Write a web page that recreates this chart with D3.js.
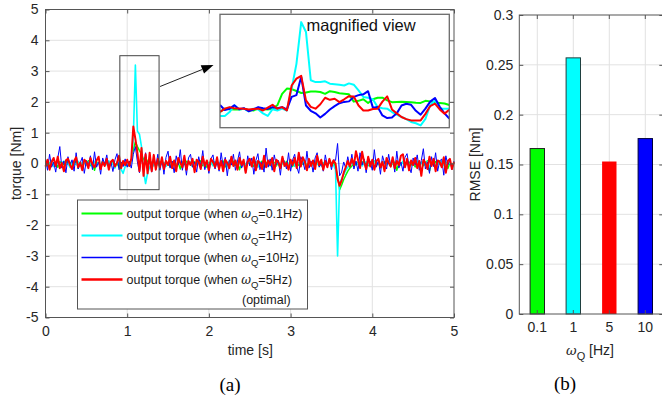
<!DOCTYPE html>
<html><head><meta charset="utf-8">
<script src="https://cdn.jsdelivr.net/npm/d3@7"></script>
<style>
html,body{margin:0;padding:0;background:#fff;}
svg{display:block;font-family:"Liberation Sans",Arial,Helvetica,sans-serif;}
</style></head><body>
<svg id="fig" width="662" height="401"></svg>
<script>
// ---- measured torque, sampled every dt seconds from t = 0 to 5 s
const dt = 0.025;
const torqueW01 = [
0.05,-0.08,0.02,0.10,-0.05,0.03,-0.12,0.06,0.00,-0.04,0.08,-0.02,0.04,-0.09,0.01,0.07,-0.15,0.03,-0.05,0.06,
-0.03,0.09,-0.07,0.02,-0.22,0.04,0.01,-0.06,0.08,-0.03,0.05,-0.10,0.02,0.06,-0.04,0.00,-0.12,0.03,-0.05,0.02,
-0.06,0.04,0.08,0.45,0.70,0.55,0.42,0.30,0.12,0.20,0.05,0.12,-0.05,0.08,-0.02,0.06,-0.04,0.03,-0.08,0.05,
0.00,-0.10,0.04,0.08,-0.06,0.02,-0.18,0.05,-0.03,0.07,-0.01,0.03,-0.09,0.06,-0.04,0.02,0.09,-0.07,0.01,-0.12,
0.04,-0.02,0.06,-0.08,0.03,0.00,-0.05,0.08,-0.11,0.02,0.05,-0.03,0.07,-0.06,0.01,-0.20,0.04,0.02,-0.07,0.06,
-0.02,0.03,-0.09,0.05,0.00,-0.04,0.08,-0.13,0.02,0.06,-0.05,0.01,0.04,-0.08,0.03,-0.16,0.05,-0.02,0.07,-0.04,
0.02,-0.10,0.06,0.00,-0.06,0.04,-0.02,0.08,-0.12,0.03,-0.05,0.07,-0.01,0.02,-0.08,0.05,-0.03,0.01,-0.06,0.04,
-0.02,0.03,-0.10,-0.40,-0.85,-0.70,-0.52,-0.38,-0.25,-0.15,-0.08,0.02,-0.05,0.04,-0.10,0.06,-0.03,0.02,-0.07,0.05,
-0.01,0.08,-0.06,0.03,-0.14,0.02,0.05,-0.04,0.07,-0.09,0.01,0.04,-0.22,0.03,-0.02,0.06,-0.08,0.02,0.05,-0.05,
0.03,-0.11,0.07,-0.02,0.04,-0.07,0.01,0.09,-0.24,0.03,-0.04,0.06,-0.02,0.08,-0.10,0.02,0.05,-0.16,0.03,-0.06,
0.02];
const torqueW1 = [
-0.04,0.06,-0.02,0.09,-0.10,0.03,0.05,-0.07,0.02,0.08,-0.05,0.01,-0.13,0.06,0.00,-0.03,0.07,-0.09,0.04,0.02,
-0.06,0.05,0.01,-0.11,0.07,-0.02,0.03,-0.08,0.06,0.00,-0.04,0.09,-0.07,0.02,-0.15,0.05,-0.01,-0.18,-0.32,-0.10,
0.02,-0.08,0.05,0.85,3.20,1.05,0.95,0.55,-0.25,-0.65,-0.30,-0.12,0.05,-0.08,0.03,-0.05,0.06,-0.02,0.04,-0.09,
0.03,0.07,-0.05,0.01,-0.12,0.05,0.02,-0.06,0.08,-0.03,0.00,0.06,-0.10,0.04,-0.02,0.07,-0.07,0.03,-0.14,0.05,
-0.01,0.04,-0.08,0.06,0.02,-0.05,0.09,-0.03,0.01,-0.11,0.05,0.00,-0.06,0.08,-0.02,0.03,-0.09,0.06,-0.04,0.02,
0.05,-0.07,0.01,0.04,-0.12,0.06,-0.02,0.03,-0.05,0.08,-0.08,0.02,0.00,-0.04,0.07,-0.10,0.03,0.05,-0.06,0.01,
-0.03,0.06,-0.09,0.04,0.02,-0.05,0.07,-0.01,-0.13,0.05,0.00,-0.06,0.08,-0.03,0.04,-0.08,0.02,0.06,-0.04,0.01,
0.03,-0.05,-0.20,-3.00,-0.62,-0.50,-0.36,-0.22,-0.12,-0.05,0.03,-0.06,0.05,-0.02,0.04,-0.08,0.02,0.06,-0.04,0.01,
-0.07,0.05,-0.02,0.03,-0.10,0.06,0.00,-0.05,0.08,-0.03,0.02,-0.09,0.04,0.01,-0.06,0.07,-0.02,0.03,-0.11,0.05,
0.00,-0.04,0.06,-0.08,0.02,0.05,-0.03,0.07,-0.12,0.01,0.04,-0.06,0.03,-0.02,0.08,-0.07,0.02,-0.04,0.05,-0.09,
0.03];
const torqueW10 = [
0.15,-0.22,0.30,-0.12,0.05,-0.28,0.18,0.55,-0.15,0.08,-0.30,0.22,-0.05,0.12,-0.25,0.35,-0.18,0.02,0.20,-0.32,
0.10,-0.08,0.25,-0.20,0.38,-0.12,0.05,-0.35,0.18,-0.02,0.28,-0.15,0.08,-0.26,0.12,0.32,-0.20,0.05,-0.10,0.15,
-0.12,0.08,-0.15,0.30,0.55,0.05,-0.30,0.20,-0.15,0.35,-0.20,0.10,-0.28,0.25,-0.10,0.30,-0.22,0.12,-0.35,0.20,
0.40,-0.15,0.08,-0.30,0.25,-0.05,0.45,-0.22,0.12,-0.38,0.18,0.30,-0.12,0.05,-0.28,0.22,-0.08,0.42,-0.20,0.10,
-0.32,0.15,0.28,-0.18,0.06,-0.25,0.35,-0.10,0.20,-0.40,0.12,-0.05,0.30,-0.22,0.08,0.38,-0.15,0.02,-0.30,0.25,
-0.08,0.18,-0.35,0.10,0.32,-0.20,0.05,-0.28,0.50,-0.12,0.15,-0.22,0.28,-0.05,0.10,-0.38,0.20,0.06,-0.18,0.35,
-0.25,0.12,0.30,-0.10,-0.32,0.22,0.05,-0.20,0.40,-0.15,0.08,-0.28,0.18,0.35,-0.12,0.02,-0.25,0.28,-0.08,0.15,
-0.20,0.12,0.10,0.65,-0.40,-0.28,0.05,-0.15,0.22,-0.10,0.30,-0.18,0.08,-0.25,0.35,-0.05,0.15,-0.30,0.20,0.05,
-0.22,0.45,-0.12,0.10,-0.35,0.25,0.02,-0.18,0.30,-0.08,0.15,-0.28,0.40,-0.15,0.05,-0.25,0.20,0.32,-0.10,-0.30,
0.18,-0.05,0.28,-0.22,0.10,0.48,-0.18,0.05,-0.32,0.22,-0.10,0.35,-0.25,0.08,0.15,-0.38,0.25,-0.05,0.12,-0.20,
0.08];
const torqueW5 = [
-0.10,0.12,-0.20,0.05,0.18,-0.08,0.22,-0.15,0.02,-0.25,0.10,0.15,-0.05,-0.18,0.08,0.20,-0.12,0.03,-0.22,0.12,
0.05,-0.15,0.18,-0.02,-0.12,0.10,0.22,-0.18,0.04,-0.08,0.15,-0.20,0.06,0.12,-0.10,0.02,0.25,-0.15,0.08,-0.05,
0.12,-0.08,0.15,1.20,0.80,0.35,-0.25,0.50,-0.40,0.30,-0.32,0.35,-0.25,0.28,-0.20,0.15,-0.12,0.20,-0.18,0.08,
-0.05,0.22,-0.15,0.10,-0.25,0.18,0.02,-0.12,0.25,-0.20,0.08,-0.05,0.15,-0.28,0.12,0.05,-0.18,0.22,-0.08,0.10,
-0.22,0.15,0.05,-0.12,0.20,-0.18,0.08,-0.25,0.12,0.02,-0.15,0.22,-0.08,0.10,-0.20,0.18,-0.05,0.12,-0.30,0.06,
0.15,-0.10,0.20,-0.22,0.08,0.02,-0.18,0.25,-0.12,0.10,-0.05,0.18,-0.25,0.12,0.05,-0.15,0.22,-0.08,0.02,-0.20,
0.12,-0.05,0.18,-0.15,0.35,-0.10,0.20,0.05,-0.22,0.15,-0.08,0.10,-0.18,0.25,-0.05,0.12,-0.20,0.08,-0.12,0.15,
-0.08,0.10,0.00,-0.50,-0.72,-0.55,-0.30,-0.12,0.08,-0.10,0.15,-0.05,0.40,0.12,-0.15,0.38,0.05,-0.18,0.22,-0.10,
0.12,-0.20,0.08,0.15,-0.12,0.05,-0.25,0.18,0.02,-0.10,0.20,-0.15,0.08,-0.05,0.25,0.30,-0.12,0.15,-0.22,0.10,
-0.05,0.18,-0.15,0.08,-0.40,0.12,0.02,-0.18,0.22,-0.08,0.15,-0.25,0.10,0.05,-0.12,0.20,-0.30,0.08,0.15,-0.18,
0.05];

// ---- finer samples around the step at t = 1 s (0.91 ... 1.39 s, every 0.01 s)
const zoomStart = 0.91, zoomDt = 0.01;
const zoomW01 = [-0.25,-0.12,-0.14,-0.15,-0.15,-0.12,-0.17,-0.19,-0.12,-0.14,-0.15,-0.12,0.01,0.45,0.65,0.63,0.56,0.48,0.50,0.54,
0.54,0.52,0.45,0.55,0.52,0.47,0.45,0.43,0.15,0.18,0.24,0.10,0.24,0.30,0.30,0.20,0.13,0.14,0.15,0.14,
0.13,0.11,0.10,0.18,0.16,0.12,0.10,0.08,0.02];
const zoomW1 = [-0.40,-0.40,-0.25,0.01,-0.15,-0.12,-0.22,-0.12,-0.15,-0.30,-0.40,-0.14,-0.19,-0.12,-0.19,0.65,1.60,3.20,2.82,0.97,
0.90,0.90,0.93,0.84,0.82,0.80,0.77,0.85,0.80,0.58,0.33,0.30,0.24,-0.06,-0.10,-0.12,-0.25,-0.35,-0.44,-0.52,
-0.63,-0.68,-0.76,-0.51,0.01,0.20,-0.12,-0.12,-0.12];
const zoomW10 = [0.02,-0.17,-0.12,0.01,-0.14,-0.10,-0.22,-0.15,-0.06,-0.10,-0.13,-0.06,-0.10,-0.06,-0.15,0.33,0.40,1.10,0.00,-0.20,
-0.30,-0.46,-0.32,-0.15,-0.02,0.09,0.14,0.16,0.33,0.40,0.43,0.55,-0.08,-0.06,-0.38,-0.48,-0.46,-0.30,0.00,0.07,
0.03,-0.20,-0.35,-0.12,0.15,0.29,-0.05,-0.30,-0.50];
const zoomW5 = [-0.25,-0.12,-0.06,-0.10,-0.11,-0.12,-0.15,-0.13,-0.12,-0.19,-0.08,0.03,-0.12,-0.06,-0.19,0.77,1.03,1.14,0.20,-0.05,
-0.12,0.05,0.30,0.22,0.26,0.13,0.24,0.36,0.35,0.00,-0.19,-0.19,-0.13,-0.12,0.15,0.35,-0.15,-0.30,-0.44,-0.52,
-0.57,-0.57,-0.57,-0.32,-0.02,0.07,-0.15,-0.31,-0.16];

// ---- RMSE per filter bandwidth
const freqLabels = ["0.1", "1", "5", "10"];
const rmseValues = [0.166, 0.257, 0.153, 0.176];
const barColors = ["#00ff00", "#00ffff", "#ff0000", "#0000ff"];
const barEdges = ["#1f1f1f", "#1f3f3f", "none", "#00003a"];

// ---- tick values
const timeTicks = [0, 1, 2, 3, 4, 5];
const torqueTicks = [-5, -4, -3, -2, -1, 0, 1, 2, 3, 4, 5];
const rmseTicks = [0, 0.05, 0.1, 0.15, 0.2, 0.25, 0.3];

const legendLabels = ["0.1Hz)", "1Hz)", "10Hz)", "5Hz)"];

const C = {axis: "#555", grid: "#e2e2e2", text: "#262626"};
const svg = d3.select("#fig");
// plain hyphen for negative tick labels
const fmtInt = d => String(d);

// =================== panel (a): torque vs time ===================
const L = {l: 45.5, r: 454, t: 9.5, b: 317.5};
const x = d3.scaleLinear().domain([0, 5]).range([L.l, L.r]);
const y = d3.scaleLinear().domain([-5, 5]).range([L.b, L.t]);
const gA = svg.append("g");

gA.append("g").selectAll("line").data(timeTicks.slice(1, -1)).join("line")
  .attr("x1", d => x(d)).attr("x2", d => x(d)).attr("y1", L.t).attr("y2", L.b)
  .attr("stroke", C.grid).attr("stroke-width", 1);
gA.append("g").selectAll("line").data(torqueTicks.slice(1, -1)).join("line")
  .attr("y1", d => y(d)).attr("y2", d => y(d)).attr("x1", L.l).attr("x2", L.r)
  .attr("stroke", C.grid).attr("stroke-width", 1);

const series = [
  {v: torqueW01, z: zoomW01, color: "#00ff00", w: 1.5},
  {v: torqueW1,  z: zoomW1,  color: "#00ffff", w: 1.6},
  {v: torqueW10, z: zoomW10, color: "#0000ff", w: 1.0},
  {v: torqueW5,  z: zoomW5,  color: "#ff0000", w: 2.0}
];
const lineA = d3.line().x((d, i) => x(i * dt)).y(d => y(d));
gA.append("g").selectAll("path").data(series).join("path")
  .attr("d", s => lineA(s.v)).attr("fill", "none")
  .attr("stroke", s => s.color).attr("stroke-width", s => s.w)
  .attr("stroke-linejoin", "round");

function styleAxis(g) {
  g.select(".domain").remove();
  g.selectAll(".tick line").attr("stroke", C.axis);
  g.selectAll(".tick text").attr("fill", C.text).attr("font-size", 14)
    .attr("font-family", '"Liberation Sans", Arial, sans-serif');
}
gA.append("g").attr("transform", `translate(0,${L.b})`)
  .call(d3.axisBottom(x).tickValues(timeTicks).tickFormat(fmtInt).tickSize(-4).tickPadding(9))
  .call(styleAxis);
gA.append("g").attr("transform", `translate(0,${L.t})`)
  .call(d3.axisTop(x).tickValues(timeTicks).tickFormat("").tickSize(-4))
  .call(styleAxis);
gA.append("g").attr("transform", `translate(${L.l},0)`)
  .call(d3.axisLeft(y).tickValues(torqueTicks).tickFormat(fmtInt).tickSize(-4).tickPadding(7))
  .call(styleAxis);
gA.append("g").attr("transform", `translate(${L.r},0)`)
  .call(d3.axisRight(y).tickValues(torqueTicks).tickFormat("").tickSize(-4))
  .call(styleAxis);
gA.append("rect").attr("x", L.l).attr("y", L.t).attr("width", L.r - L.l).attr("height", L.b - L.t)
  .attr("fill", "none").attr("stroke", C.axis).attr("stroke-width", 1);

// zoom window outline
const win = {t0: 0.91, t1: 1.39, v0: -0.85, v1: 3.5};
gA.append("rect").attr("x", x(win.t0)).attr("y", y(win.v1))
  .attr("width", x(win.t1) - x(win.t0)).attr("height", y(win.v0) - y(win.v1))
  .attr("fill", "none").attr("stroke", "#444").attr("stroke-width", 1);

// magnified inset
const I = {l: 220, r: 449.3, t: 14.3, b: 127.7};
const xi = d3.scaleLinear().domain([win.t0, win.t1]).range([I.l, I.r]);
const yi = d3.scaleLinear().domain([win.v0, win.v1]).range([I.b, I.t]);
svg.append("clipPath").attr("id", "insetClip").append("rect")
  .attr("x", I.l).attr("y", I.t).attr("width", I.r - I.l).attr("height", I.b - I.t);
gA.append("rect").attr("x", I.l).attr("y", I.t).attr("width", I.r - I.l).attr("height", I.b - I.t)
  .attr("fill", "#fff");
const lineI = d3.line().x((d, i) => xi(zoomStart + i * zoomDt)).y(d => yi(d));
gA.append("g").attr("clip-path", "url(#insetClip)").selectAll("path").data(series).join("path")
  .attr("d", s => lineI(s.z)).attr("fill", "none")
  .attr("stroke", s => s.color).attr("stroke-width", 2).attr("stroke-linejoin", "round");
gA.append("rect").attr("x", I.l).attr("y", I.t).attr("width", I.r - I.l).attr("height", I.b - I.t)
  .attr("fill", "none").attr("stroke", "#6b6b6b").attr("stroke-width", 1.3);
gA.append("text").attr("x", 306.5).attr("y", 30.5).attr("font-size", 16.5).attr("fill", "#111")
  .text("magnified view");

// arrow from the window to the inset
const a0 = [x(win.t1) + 1, y(2.5)], a1 = [I.l - 6.5, y(3.2)];
const ang = Math.atan2(a1[1] - a0[1], a1[0] - a0[0]);
const hl = 12, hw = 4.5;
const base = [a1[0] - hl * Math.cos(ang), a1[1] - hl * Math.sin(ang)];
gA.append("line").attr("x1", a0[0]).attr("y1", a0[1]).attr("x2", base[0]).attr("y2", base[1])
  .attr("stroke", "#222").attr("stroke-width", 1);
gA.append("path").attr("fill", "#000")
  .attr("d", `M${a1[0]},${a1[1]}L${base[0] - hw * Math.sin(ang)},${base[1] + hw * Math.cos(ang)}L${base[0] + hw * Math.sin(ang)},${base[1] - hw * Math.cos(ang)}Z`);

// legend
const lg = gA.append("g");
lg.append("rect").attr("x", 77.5).attr("y", 200).attr("width", 230).attr("height", 109)
  .attr("fill", "#fff").attr("stroke", "#555").attr("stroke-width", 1);
const rowY = d3.scaleLinear().domain([0, 3]).range([213.5, 279.5]);
const rows = lg.selectAll("g.row").data(series).join("g").attr("class", "row")
  .attr("transform", (d, i) => `translate(0,${rowY(i)})`);
rows.append("line").attr("x1", 81.5).attr("x2", 122.5).attr("y1", 0).attr("y2", 0)
  .attr("stroke", d => d.color).attr("stroke-width", d => d.w + 0.3);
const rt = rows.append("text").attr("x", 126.5).attr("y", 4.3).attr("font-size", 12.5).attr("fill", "#1a1a1a");
rt.append("tspan").text("output torque (when ");
rt.append("tspan").attr("font-style", "italic").attr("font-family", '"DejaVu Serif", "Liberation Serif", serif').attr("font-size", 12).text("ω");
rt.append("tspan").attr("font-size", 9.5).attr("dy", 4.5).text("Q");
rt.append("tspan").attr("dy", -4.5).text((d, i) => "=" + legendLabels[i]);
lg.append("text").attr("x", 242).attr("y", 303.5).attr("font-size", 12.5).attr("fill", "#1a1a1a").text("(optimal)");

gA.append("text").attr("transform", `translate(16,${(L.t + L.b) / 2}) rotate(-90)`)
  .attr("text-anchor", "middle").attr("dy", "0.35em").attr("font-size", 14).attr("fill", C.text)
  .text("torque [Nm]");
gA.append("text").attr("x", (L.l + L.r) / 2 + 0.5).attr("y", 355).attr("text-anchor", "middle")
  .attr("font-size", 14).attr("fill", C.text).text("time [s]");
gA.append("text").attr("x", 230).attr("y", 391).attr("text-anchor", "middle")
  .attr("font-family", '"Liberation Serif", "Times New Roman", serif').attr("font-size", 19).attr("fill", "#000")
  .text("(a)");

// =================== panel (b): RMSE bars ===================
const R = {l: 519.3, r: 663.3, t: 15, b: 314};
const xb = d3.scaleBand().domain(freqLabels).range([R.l, R.r]).paddingInner(0.6).paddingOuter(0.3);
const yb = d3.scaleLinear().domain([0, 0.3]).range([R.b, R.t]);
const gB = svg.append("g");

gB.append("g").selectAll("line").data(freqLabels).join("line")
  .attr("x1", d => xb(d) + xb.bandwidth() / 2).attr("x2", d => xb(d) + xb.bandwidth() / 2)
  .attr("y1", R.t).attr("y2", R.b).attr("stroke", C.grid);
gB.append("g").selectAll("line").data(rmseTicks.slice(1, -1)).join("line")
  .attr("y1", d => yb(d)).attr("y2", d => yb(d)).attr("x1", R.l).attr("x2", R.r).attr("stroke", C.grid);

gB.append("g").selectAll("rect").data(freqLabels).join("rect")
  .attr("x", d => xb(d)).attr("width", xb.bandwidth())
  .attr("y", (d, i) => yb(rmseValues[i])).attr("height", (d, i) => yb(0) - yb(rmseValues[i]))
  .attr("fill", (d, i) => barColors[i]).attr("stroke", (d, i) => barEdges[i]).attr("stroke-width", 1);

gB.append("g").attr("transform", `translate(0,${R.b})`)
  .call(d3.axisBottom(xb).tickSize(-4).tickPadding(8)).call(styleAxis);
gB.append("g").attr("transform", `translate(0,${R.t})`)
  .call(d3.axisTop(xb).tickFormat("").tickSize(-4)).call(styleAxis);
gB.append("g").attr("transform", `translate(${R.l},0)`)
  .call(d3.axisLeft(yb).tickValues(rmseTicks).tickFormat(d => d === 0 ? "0" : String(+d.toFixed(2))).tickSize(-4).tickPadding(6))
  .call(styleAxis);
gB.append("g").attr("transform", `translate(${R.r},0)`)
  .call(d3.axisRight(yb).tickValues(rmseTicks).tickFormat("").tickSize(-4)).call(styleAxis);
gB.append("rect").attr("x", R.l).attr("y", R.t).attr("width", R.r - R.l).attr("height", R.b - R.t)
  .attr("fill", "none").attr("stroke", C.axis).attr("stroke-width", 1);

gB.append("text").attr("transform", `translate(475,${(R.t + R.b) / 2}) rotate(-90)`)
  .attr("text-anchor", "middle").attr("dy", "0.35em").attr("font-size", 14).attr("fill", C.text)
  .text("RMSE [Nm]");
const xl = gB.append("text").attr("x", 590).attr("y", 355).attr("text-anchor", "middle")
  .attr("font-size", 14).attr("fill", C.text);
xl.append("tspan").attr("font-style", "italic").attr("font-family", '"DejaVu Serif", "Liberation Serif", serif').attr("font-size", 13).text("ω");
xl.append("tspan").attr("font-size", 11).attr("dy", 5).text("Q");
xl.append("tspan").attr("dy", -5).text(" [Hz]");
gB.append("text").attr("x", 565).attr("y", 390).attr("text-anchor", "middle")
  .attr("font-family", '"Liberation Serif", "Times New Roman", serif').attr("font-size", 19).attr("fill", "#000")
  .text("(b)");
</script>
</body></html>
